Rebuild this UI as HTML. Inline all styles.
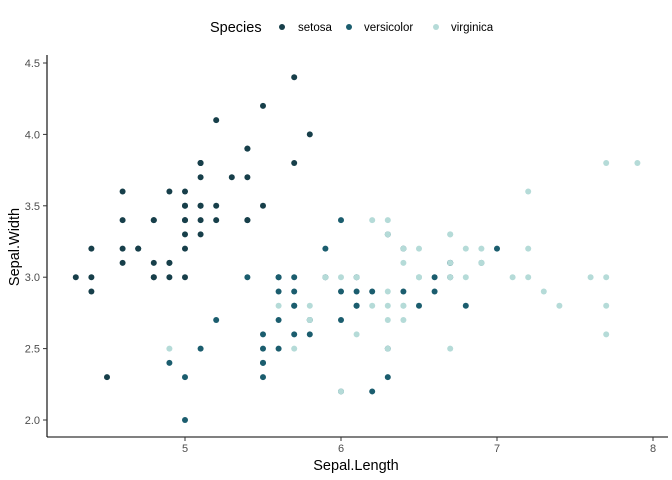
<!DOCTYPE html>
<html><head><meta charset="utf-8"><style>
body{margin:0;background:#fff;}
svg{display:block;font-family:"Liberation Sans",sans-serif;}
</style></head><body>
<svg id="chart" width="672" height="480">
<g>
<text x="210" y="32" font-size="14.5" fill="#000">Species</text>
<circle cx="282" cy="27" r="3" fill="#173f4a"/>
<text x="298" y="31" font-size="11.5">setosa</text>
<circle cx="349" cy="27" r="3" fill="#1b5d6e"/>
<text x="364" y="31" font-size="11.5">versicolor</text>
<circle cx="436" cy="27" r="3" fill="#b5dbd8"/>
<text x="451" y="31" font-size="11.5">virginica</text>
</g>
<g id="axes"></g>
<g id="points"></g>
<text x="356" y="470" font-size="14.5" text-anchor="middle">Sepal.Length</text>
<text transform="translate(19,247) rotate(-90)" font-size="14.5" text-anchor="middle">Sepal.Width</text>
</svg>
<script>
const species = ["setosa","versicolor","virginica"];
const colors = {setosa:"#173f4a",versicolor:"#1b5d6e",virginica:"#b5dbd8"};
const xTicks = [5,6,7,8];
const yTicks = [2.0,2.5,3.0,3.5,4.0,4.5];
const setosaX = [5.1,4.9,4.7,4.6,5.0,5.4,4.6,5.0,4.4,4.9,5.4,4.8,4.8,4.3,5.8,5.7,5.4,5.1,5.7,5.1,5.4,5.1,4.6,5.1,4.8,5.0,5.0,5.2,5.2,4.7,4.8,5.4,5.2,5.5,4.9,5.0,5.5,4.9,4.4,5.1,5.0,4.5,4.4,5.0,5.1,4.8,5.1,4.6,5.3,5.0];
const setosaY = [3.5,3.0,3.2,3.1,3.6,3.9,3.4,3.4,2.9,3.1,3.7,3.4,3.0,3.0,4.0,4.4,3.9,3.5,3.8,3.8,3.4,3.7,3.6,3.3,3.4,3.0,3.4,3.5,3.4,3.2,3.1,3.4,4.1,4.2,3.1,3.2,3.5,3.6,3.0,3.4,3.5,2.3,3.2,3.5,3.8,3.0,3.8,3.2,3.7,3.3];
const versicolorX = [7.0,6.4,6.9,5.5,6.5,5.7,6.3,4.9,6.6,5.2,5.0,5.9,6.0,6.1,5.6,6.7,5.6,5.8,6.2,5.6,5.9,6.1,6.3,6.1,6.4,6.6,6.8,6.7,6.0,5.7,5.5,5.5,5.8,6.0,5.4,6.0,6.7,6.3,5.6,5.5,5.5,6.1,5.8,5.0,5.6,5.7,5.7,6.2,5.1,5.7];
const versicolorY = [3.2,3.2,3.1,2.3,2.8,2.8,3.3,2.4,2.9,2.7,2.0,3.0,2.2,2.9,2.9,3.1,3.0,2.7,2.2,2.5,3.2,2.8,2.5,2.8,2.9,3.0,2.8,3.0,2.9,2.6,2.4,2.4,2.7,2.7,3.0,3.4,3.1,2.3,3.0,2.5,2.6,3.0,2.6,2.3,2.7,3.0,2.9,2.9,2.5,2.8];
const virginicaX = [6.3,5.8,7.1,6.3,6.5,7.6,4.9,7.3,6.7,7.2,6.5,6.4,6.8,5.7,5.8,6.4,6.5,7.7,7.7,6.0,6.9,5.6,7.7,6.3,6.7,7.2,6.2,6.1,6.4,7.2,7.4,7.9,6.4,6.3,6.1,7.7,6.3,6.4,6.0,6.9,6.7,6.9,5.8,6.8,6.7,6.7,6.3,6.5,6.2,5.9];
const virginicaY = [3.3,2.7,3.0,2.9,3.0,3.0,2.5,2.9,2.5,3.6,3.2,2.7,3.0,2.5,2.8,3.2,3.0,3.8,2.6,2.2,3.2,2.8,2.8,2.7,3.3,3.2,2.8,3.0,2.8,3.0,2.8,3.8,2.8,2.8,2.6,3.0,3.4,3.1,3.0,3.1,3.1,3.1,2.7,3.2,3.3,3.0,2.5,3.0,3.4,3.0];
const series = {setosa:[setosaX,setosaY],versicolor:[versicolorX,versicolorY],virginica:[virginicaX,virginicaY]};
const NS="http://www.w3.org/2000/svg";
const xs = v => 185 + (v-5)*156;
const ys = v => 420 - (v-2)*142.8;
const axes=document.getElementById('axes');
function mk(tag,attrs,parent){const e=document.createElementNS(NS,tag);for(const k in attrs)e.setAttribute(k,attrs[k]);parent.appendChild(e);return e;}
let l=mk('line',{x1:47,y1:437,x2:668,y2:437,stroke:'#000','stroke-width':1.1},axes);


l=mk('line',{x1:47,y1:55,x2:47,y2:437,stroke:'#000','stroke-width':1.1},axes);


xTicks.forEach(t=>{
  const tk=mk('line',{x1:xs(t),x2:xs(t),y1:437,y2:441,stroke:'#333'},axes);
  
  
  const tx=mk('text',{x:xs(t),y:452,'font-size':11,'text-anchor':'middle',fill:'#4d4d4d'},axes);
  tx.textContent=t;
  
  
});
yTicks.forEach(t=>{
  const tk=mk('line',{x1:43,x2:47,y1:ys(t),y2:ys(t),stroke:'#333'},axes);
  
  
  const tx=mk('text',{x:40,y:ys(t)+4,'font-size':11,'text-anchor':'end',fill:'#4d4d4d'},axes);
  tx.textContent=t.toFixed(1);
  
  
});
const pts=document.getElementById('points');
species.forEach(s=>{
  const [X,Y]=series[s];
  X.forEach((x,i)=>{
    const c=mk('circle',{cx:xs(x),cy:ys(Y[i]),r:3,fill:colors[s]},pts);
    
    
  });
});
</script>
</body></html>
